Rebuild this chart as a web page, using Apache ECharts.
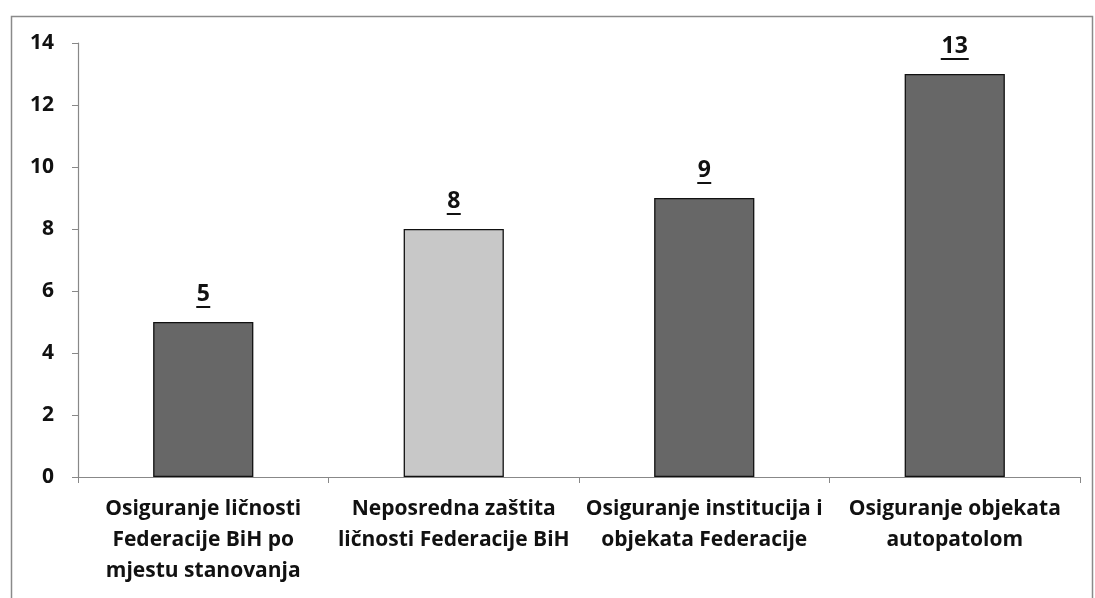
<!DOCTYPE html>
<html>
<head>
<meta charset="utf-8">
<script src="https://cdn.jsdelivr.net/npm/echarts@6/dist/echarts.min.js"></script>
<style>
  html, body { margin: 0; padding: 0; background: #fff; }
  #chart { width: 1095px; height: 598px; }
</style>
</head>
<body>
<div id="chart"></div>
<script>
const categories = [
  'Osiguranje ličnosti\nFederacije BiH po\nmjestu stanovanja',
  'Neposredna zaštita\nličnosti Federacije BiH',
  'Osiguranje institucija i\nobjekata Federacije',
  'Osiguranje objekata\nautopatolom'
]
const values = [5, 8, 9, 13]
const barColors = ['#676767', '#c8c8c8', '#676767', '#676767']

const fontFamily = '"Open Sans", "Noto Sans", sans-serif'

const chart = echarts.init(document.getElementById('chart'))

chart.setOption({
  animation: false,
  backgroundColor: '#fff',
  // outer chart frame
  graphic: [{
    type: 'rect',
    left: 9, top: 14,
    shape: { width: 1081, height: 600 },
    style: { fill: 'none', stroke: '#8a8a8a', lineWidth: 1.5 },
    silent: true
  }],
  grid: { left: 78, right: 15, top: 43, bottom: 121 },
  xAxis: {
    type: 'category',
    data: categories,
    axisLine: { lineStyle: { color: '#888', width: 1.2 } },
    axisTick: { show: true, length: 6, lineStyle: { color: '#888' } },
    axisLabel: {
      color: '#111', fontWeight: 'bold', fontSize: 21, fontFamily,
      lineHeight: 31, margin: 17, interval: 0
    }
  },
  yAxis: {
    type: 'value',
    min: 0, max: 14, interval: 2,
    splitLine: { show: false },
    axisLine: { show: true, lineStyle: { color: '#888', width: 1.2 } },
    axisTick: { show: true, length: 6, lineStyle: { color: '#888' } },
    axisLabel: { color: '#111', fontWeight: 'bold', fontSize: 21, fontFamily, margin: 24 }
  },
  series: [{
    type: 'bar',
    barWidth: '40%',
    data: values.map((v, i) => ({
      value: v,
      itemStyle: { color: barColors[i], borderColor: '#111', borderWidth: 1.3 }
    })),
    label: {
      show: true,
      position: 'top',
      distance: 14,
      formatter: p => '{v|' + p.value + '}\n{' + (p.value >= 10 ? 'u2' : 'u1') + '|}',
      rich: {
        v: { color: '#111', fontWeight: 'bold', fontSize: 23, fontFamily, lineHeight: 24 },
        u1: { width: 14, height: 2, backgroundColor: '#111' },
        u2: { width: 28, height: 2, backgroundColor: '#111' }
      }
    }
  }]
})
</script>
</body>
</html>
